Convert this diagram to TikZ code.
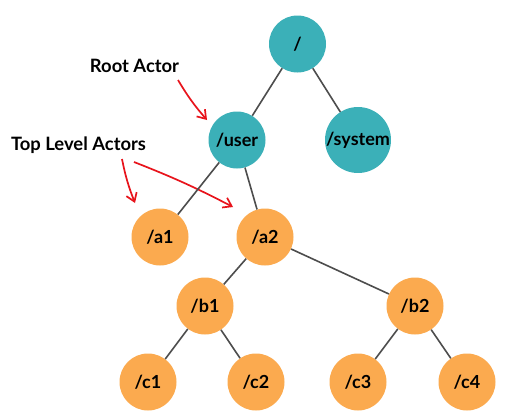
\documentclass[tikz,border=0pt]{standalone}
\usepackage{fontspec}
\setmainfont{Lato}
\usetikzlibrary{arrows.meta}
\definecolor{tealc}{HTML}{3BB0B8}
\definecolor{orangec}{HTML}{FBAA4F}
\definecolor{edgec}{HTML}{4D4D4D}
\definecolor{redc}{HTML}{E8141C}
\tikzset{
  actor/.style={circle, minimum size=57pt, inner sep=0pt, font=\bfseries\fontsize{18}{20}\selectfont, text=black},
  sysactor/.style={actor, fill=tealc},
  useractor/.style={actor, fill=orangec},
  edge/.style={draw=edgec, line width=1.6pt},
  note/.style={font=\bfseries\fontsize{18.4}{20}\selectfont, text=black, inner sep=0pt},
  pointer/.style={draw=redc, line width=1.7pt, -{Straight Barb[length=8pt,width=11pt,line width=1.7pt]}}
}
\begin{document}
\begin{tikzpicture}[x=1pt,y=-1pt]
\useasboundingbox (0,0) rectangle (509,415);
\fill[white] (0,0) rectangle (509,415);
\node[sysactor] (root) at (297.5,44) {/};
\node[sysactor] (user) at (237,140) {/user};
\node[sysactor] (system) at (358,140) {/system};
\node[useractor] (a1) at (160,237) {/a1};
\node[useractor] (a2) at (265,237) {/a2};
\node[useractor] (b1) at (205,306) {/b1};
\node[useractor] (b2) at (415,306) {/b2};
\node[useractor] (c1) at (148,382) {/c1};
\node[useractor] (c2) at (256,382) {/c2};
\node[useractor] (c3) at (358,382) {/c3};
\node[useractor] (c4) at (467,382) {/c4};
\node[note] (rootlbl) at (134.5,66) {Root Actor};
\node[note] (toplbl) at (78.5,145) {Top Level Actors};
\coordinate (r0) at (178,80);
\coordinate (r1) at (207,120);
\coordinate (t0) at (122,159);
\coordinate (t1) at (135,203);
\coordinate (u0) at (134,162);
\coordinate (u1) at (233,207);
\draw[pointer] (r0) to[bend right=5] (r1);
\draw[pointer] (t0) to[bend right=5] (t1);
\draw[pointer] (u0) to[bend left=3] (u1);
\path[edge] (root) -- (user);
\path[edge] (root) -- (system);
\path[edge] (user) -- (a1);
\path[edge] (user) -- (a2);
\path[edge] (a2) -- (b1);
\path[edge] (a2) -- (b2);
\path[edge] (b1) -- (c1);
\path[edge] (b1) -- (c2);
\path[edge] (b2) -- (c3);
\path[edge] (b2) -- (c4);
\end{tikzpicture}
\end{document}
